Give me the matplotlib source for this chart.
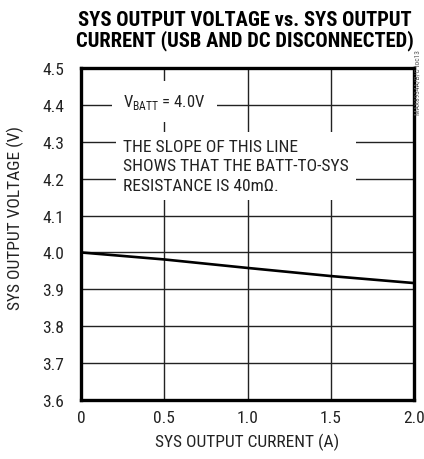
import matplotlib
matplotlib.use("Agg")
import matplotlib.pyplot as plt
import numpy as np

# data
current = [0.0, 0.5, 1.0, 1.5, 2.0]
voltage = [4.000, 3.981, 3.958, 3.936, 3.917]

xticks = [0, 0.5, 1.0, 1.5, 2.0]
xticklabels = ["0", "0.5", "1.0", "1.5", "2.0"]
yticks = [3.6, 3.7, 3.8, 3.9, 4.0, 4.1, 4.2, 4.3, 4.4, 4.5]

plt.rcParams["font.family"] = ["Roboto Condensed", "DejaVu Sans"]
plt.rcParams["mathtext.fontset"] = "custom"
plt.rcParams["mathtext.rm"] = "Roboto Condensed"

fig = plt.figure(figsize=(4.24, 4.60), dpi=100)
ax = fig.add_axes([81/424, 59/460, 333/424, 332/460])

ax.plot(current, voltage, color="black", lw=1.9, zorder=4, solid_capstyle="butt")

ax.set_xlim(0, 2.0)
ax.set_ylim(3.6, 4.5)
ax.set_xticks(xticks)
ax.set_xticklabels(xticklabels)
ax.set_yticks(yticks)
ax.set_yticklabels([f"{v:.1f}" for v in yticks])
ax.tick_params(axis="both", length=0, labelsize=12.5, colors="#222222")
ax.tick_params(axis="y", pad=12)
ax.tick_params(axis="x", pad=7)
ax.grid(True, color="#222222", lw=1.0)
ax.set_axisbelow(True)
for s in ax.spines.values():
    s.set_linewidth(2.4)
    s.set_zorder(5)

ax.set_xlabel("SYS OUTPUT CURRENT (A)", fontsize=12.5, color="#222222", labelpad=6)
ax.set_ylabel("SYS OUTPUT VOLTAGE (V)", fontsize=12.5, color="#222222")
ax.yaxis.set_label_coords(-0.17, 0.55)

ax.text(0.252, 4.41, r"V$_{\mathrm{BATT}}$ = 4.0V", fontsize=12, va="center", ha="left",
        color="#222222", zorder=3, bbox=dict(facecolor="white", edgecolor="none", pad=8))
ax.text(0.252, 4.235, "THE SLOPE OF THIS LINE\nSHOWS THAT THE BATT-TO-SYS\nRESISTANCE IS 40m\u03a9.",
        fontsize=12.6, va="center", ha="left", linespacing=1.38, zorder=3, color="#222222",
        bbox=dict(facecolor="white", edgecolor="none", pad=5))

fig.text(245/424, 1 - 31/460, "SYS OUTPUT VOLTAGE vs. SYS OUTPUT\nCURRENT (USB AND DC DISCONNECTED)",
         ha="center", va="center", fontsize=14.8, fontweight="heavy", linespacing=1.05)

fig.text(418/424, 1 - 83/460, "MAX8934A/B/C toc13", rotation=90, fontsize=5.3,
         color="#555555", ha="center", va="center")

fig.savefig("out.png", dpi=100)
